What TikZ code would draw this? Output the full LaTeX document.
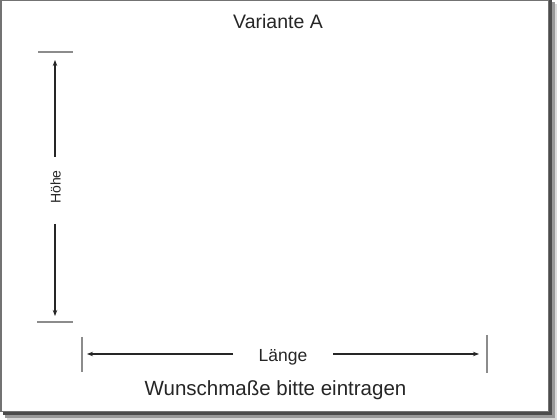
\documentclass[tikz,border=0pt]{standalone}
\usepackage{fontspec}
\setmainfont{Liberation Sans}
\usetikzlibrary{arrows.meta}
\begin{document}
\begin{tikzpicture}[x=1pt,y=1pt,
  tick/.style={line width=1.3pt,draw=black!45},
  dimline/.style={line width=1.1pt,draw=black!85,-{Stealth[length=6pt,width=4.5pt]}},
  lbl/.style={inner sep=0pt,anchor=base,text=black!85}]
\useasboundingbox (0,0) rectangle (560,420);
% shadow
\fill[black!70] (549,4) rectangle (552,420);
\fill[black!70] (3,5) rectangle (552,8.5);
\fill[black!40] (552,3) rectangle (555,418);
\fill[black!40] (5,2) rectangle (555,5);
\fill[black!15] (555,1) rectangle (557,416);
\fill[black!15] (7,0) rectangle (557,2);
% frame
\draw[line width=1.5pt,draw=black!55,fill=white] (0.75,8.5) rectangle (548.5,419.25);
% titles
\node[lbl,font=\fontsize{19.5}{22}\selectfont] (title) at (278,391) {Variante A};
\node[lbl,font=\fontsize{20.5}{24}\selectfont] (foot) at (275.5,24) {Wunschmaße bitte eintragen};
% vertical dimension
\draw[tick] (38,368) coordinate (vt1) -- (73,368) coordinate (vt2);
\draw[tick] (37,98) coordinate (vb1) -- (73,98) coordinate (vb2);
\node[inner sep=0pt,rotate=90,text=black!85,font=\fontsize{14}{16}\selectfont] (hoehe) at (55.5,233) {Höhe};
\coordinate (hA) at (55,263);
\coordinate (hB) at (55,196);
\coordinate (hTop) at (55,360);
\coordinate (hBot) at (55,104);
\draw[dimline] (hA) -- (hTop);
\draw[dimline] (hB) -- (hBot);
% horizontal dimension
\draw[tick] (82,83) coordinate (lt1) -- (82,48) coordinate (lt2);
\draw[tick] (487,85) coordinate (rt1) -- (487,47) coordinate (rt2);
\node[lbl,font=\fontsize{17.5}{20}\selectfont] (laenge) at (283,58) {Länge};
\coordinate (lA) at (233,66);
\coordinate (lB) at (333,66);
\coordinate (lLeft) at (87,66);
\coordinate (lRight) at (479,66);
\draw[dimline] (lA) -- (lLeft);
\draw[dimline] (lB) -- (lRight);
\end{tikzpicture}
\end{document}
